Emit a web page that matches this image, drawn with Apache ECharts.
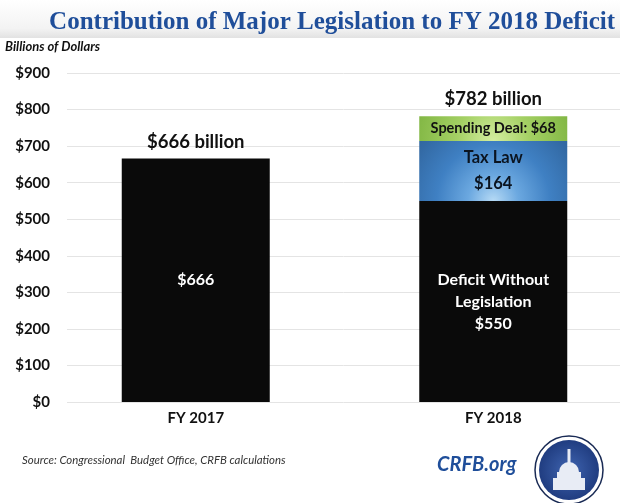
<!DOCTYPE html>
<html>
<head>
<meta charset="utf-8">
<script src="https://cdn.jsdelivr.net/npm/echarts@6/dist/echarts.min.js"></script>
<style>html,body{margin:0;padding:0;background:#fff}#c{width:620px;height:503px}</style>
</head>
<body>
<div id="c"></div>
<script>
var categories = ['FY 2017', 'FY 2018'];
var baseDeficit = [666, 550];
var taxLaw = [null, 164];
var spendingDeal = [null, 68];
var totals = [666, 782];

var FONT = 'Lato';
var chart = echarts.init(document.getElementById('c'), null, {renderer: 'canvas'});

var option = {
  backgroundColor: '#ffffff',
  animation: false,
  graphic: [
    {type: 'rect', left: 0, top: 0, shape: {width: 620, height: 38},
     style: {fill: new echarts.graphic.LinearGradient(0, 0, 0, 1, [
       {offset: 0, color: '#ffffff'}, {offset: 0.75, color: '#f3f3f3'}, {offset: 1, color: '#e2e2e2'}])}, z: -1},
    {type: 'text', right: 5, top: 10, style: {text: 'Contribution of Major Legislation to FY 2018 Deficit',
      font: 'bold 25px "Liberation Serif"', fill: '#1f4e9a'}},
    {type: 'text', left: 5, top: 40, style: {text: 'Billions of Dollars', font: 'italic bold 13px ' + FONT, fill: '#111'}},
    {type: 'text', left: 22, top: 455, style: {text: 'Source: Congressional  Budget Office, CRFB calculations', font: 'italic 11.4px ' + FONT, fill: '#333'}},
    {type: 'text', left: 437, top: 455, style: {text: 'CRFB.org', font: 'italic bold 20px ' + FONT, fill: '#1f4e9a'}},
    {type: 'circle', shape: {cx: 569, cy: 470, r: 34}, style: {fill: '#ffffff', stroke: '#1a2b55', lineWidth: 1.5}},
    {type: 'circle', shape: {cx: 569, cy: 470, r: 30}, style: {fill: new echarts.graphic.RadialGradient(0.5, 0.5, 0.6, [
       {offset: 0, color: '#3f64b0'}, {offset: 1, color: '#1a3577'}])}},
    {type: 'polygon', shape: {points: [[553,490],[585,490],[585,478],[581,478],[581,472],[557,472],[557,478],[553,478]]}, style: {fill: '#e8ecf5'}},
    {type: 'sector', shape: {cx: 569, cy: 472, r0: 0, r: 10, startAngle: Math.PI, endAngle: 2 * Math.PI}, style: {fill: '#e8ecf5'}},
    {type: 'rect', shape: {x: 567.5, y: 449, width: 3, height: 14}, style: {fill: '#e8ecf5'}}
  ],
  grid: [
    {left: 67, right: 0, top: 73, bottom: 101, outerBoundsMode: 'none', containLabel: false},
    {left: 47, width: 595, top: 73, bottom: 101, outerBoundsMode: 'none', containLabel: false}
  ],
  xAxis: [
    {gridIndex: 0, type: 'category', data: categories, show: false},
    {gridIndex: 1, type: 'category', data: categories,
     axisLine: {show: false}, axisTick: {show: false},
     axisLabel: {margin: 9, fontFamily: FONT, fontWeight: 'bold', fontSize: 15, color: '#111'}}
  ],
  yAxis: [
    {gridIndex: 0, type: 'value', min: 0, max: 900, interval: 100,
     axisLine: {show: false}, axisTick: {show: false},
     splitLine: {lineStyle: {color: '#e4e4e4', width: 1}},
     axisLabel: {margin: 17, fontFamily: FONT, fontWeight: 'bold', fontSize: 15, color: '#111',
       formatter: function (v) { return '$' + v; }}},
    {gridIndex: 1, type: 'value', min: 0, max: 900, interval: 100, show: false}
  ],
  series: [
    {type: 'bar', xAxisIndex: 1, yAxisIndex: 1, stack: 'd', barWidth: 148, data: baseDeficit,
     itemStyle: {color: '#0a0a0a'},
     label: {show: true, position: 'inside', color: '#ffffff', fontFamily: FONT, fontWeight: 'bold', fontSize: 16, lineHeight: 22,
       formatter: function (p) { return p.dataIndex === 0 ? '$' + p.value : 'Deficit Without\nLegislation\n$' + p.value; }}},
    {type: 'bar', xAxisIndex: 1, yAxisIndex: 1, stack: 'd', barWidth: 148, data: taxLaw,
     itemStyle: {color: new echarts.graphic.RadialGradient(0.5, 1, 2.1, [
       {offset: 0, color: '#b6daf5'}, {offset: 0.2, color: '#6ba8e0'}, {offset: 0.45, color: '#3f80c3'}, {offset: 0.7, color: '#336aa5'}, {offset: 1, color: '#28568a'}])},
     label: {show: true, position: 'inside', color: '#0b1420', fontFamily: FONT, fontWeight: 'bold', fontSize: 16.5, lineHeight: 26,
       formatter: function (p) { return 'Tax Law\n$' + p.value; }}},
    {type: 'bar', xAxisIndex: 1, yAxisIndex: 1, stack: 'd', barWidth: 148, data: spendingDeal,
     itemStyle: {color: new echarts.graphic.RadialGradient(0.5, 1, 4.2, [
       {offset: 0, color: '#d4eea0'}, {offset: 0.35, color: '#a4d064'}, {offset: 0.7, color: '#86ba48'}, {offset: 1, color: '#6fa23a'}])},
     label: {show: true, position: 'inside', color: '#111', fontFamily: FONT, fontWeight: 'bold', fontSize: 14.5,
       formatter: function (p) { return 'Spending Deal: $' + p.value; }}},
    {type: 'line', xAxisIndex: 1, yAxisIndex: 1, data: totals, symbol: 'circle', symbolSize: 1, showSymbol: true,
     itemStyle: {color: 'rgba(0,0,0,0)'}, lineStyle: {color: 'rgba(0,0,0,0)', width: 0},
     label: {show: true, position: 'top', distance: 7, color: '#111', fontFamily: FONT, fontWeight: 'bold', fontSize: 18.5,
       formatter: function (p) { return '$' + p.value + ' billion'; }}, z: 5}
  ]
};
chart.setOption(option);
</script>
</body>
</html>
